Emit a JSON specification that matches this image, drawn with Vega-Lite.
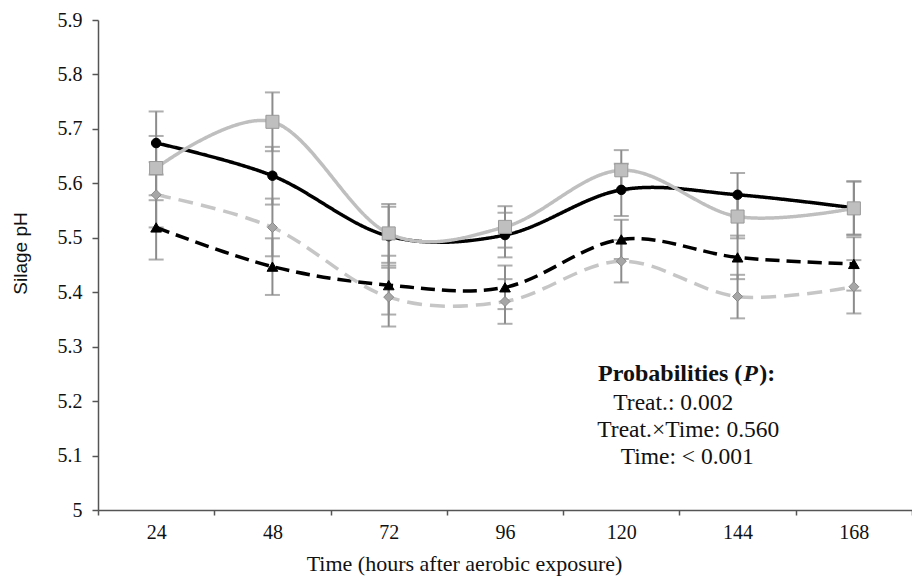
{
  "$schema": "https://vega.github.io/schema/vega-lite/v6.json",
  "width": 814,
  "height": 490,
  "autosize": {"type": "none"},
  "padding": {"left": 98, "top": 20, "right": 0, "bottom": 66},
  "background": "#ffffff",
  "config": {"view": {"stroke": null}, "font": "Liberation Serif"},
  "data": {
    "values": [
      {"time": "24", "series": "A", "ph": 5.674, "se": 0.058},
      {"time": "48", "series": "A", "ph": 5.614, "se": 0.053},
      {"time": "72", "series": "A", "ph": 5.503, "se": 0.054},
      {"time": "96", "series": "A", "ph": 5.505, "se": 0.041},
      {"time": "120", "series": "A", "ph": 5.588, "se": 0.048},
      {"time": "144", "series": "A", "ph": 5.579, "se": 0.040},
      {"time": "168", "series": "A", "ph": 5.555, "se": 0.049},
      {"time": "24", "series": "C", "ph": 5.519, "se": 0.059},
      {"time": "48", "series": "C", "ph": 5.447, "se": 0.052},
      {"time": "72", "series": "C", "ph": 5.413, "se": 0.054},
      {"time": "96", "series": "C", "ph": 5.409, "se": 0.040},
      {"time": "120", "series": "C", "ph": 5.497, "se": 0.036},
      {"time": "144", "series": "C", "ph": 5.464, "se": 0.040},
      {"time": "168", "series": "C", "ph": 5.452, "se": 0.049},
      {"time": "24", "series": "D", "ph": 5.579, "se": 0.060},
      {"time": "48", "series": "D", "ph": 5.519, "se": 0.053},
      {"time": "72", "series": "D", "ph": 5.391, "se": 0.054},
      {"time": "96", "series": "D", "ph": 5.383, "se": 0.041},
      {"time": "120", "series": "D", "ph": 5.457, "se": 0.039},
      {"time": "144", "series": "D", "ph": 5.392, "se": 0.040},
      {"time": "168", "series": "D", "ph": 5.410, "se": 0.049},
      {"time": "24", "series": "B", "ph": 5.628, "se": 0.059},
      {"time": "48", "series": "B", "ph": 5.713, "se": 0.054},
      {"time": "72", "series": "B", "ph": 5.508, "se": 0.054},
      {"time": "96", "series": "B", "ph": 5.520, "se": 0.038},
      {"time": "120", "series": "B", "ph": 5.624, "se": 0.037},
      {"time": "144", "series": "B", "ph": 5.539, "se": 0.040},
      {"time": "168", "series": "B", "ph": 5.554, "se": 0.049}
    ]
  },
  "encoding": {
    "x": {
      "field": "time",
      "type": "ordinal",
      "scale": {"type": "band", "domain": ["24", "48", "72", "96", "120", "144", "168"], "paddingInner": 0, "paddingOuter": 0},
      "axis": {
        "title": "Time (hours after aerobic exposure)",
        "titleFont": "Liberation Serif",
        "titleFontSize": 22,
        "titleFontWeight": "normal",
        "titleColor": "#111111",
        "titleX": 366,
        "titleY": 60,
        "titleBaseline": "alphabetic",
        "titleAlign": "center",
        "labelAngle": 0,
        "labelFont": "Liberation Serif",
        "labelFontSize": 20,
        "labelColor": "#111111",
        "labelPadding": 7,
        "tickBand": "extent",
        "tickSize": 5,
        "tickColor": "#555555",
        "tickWidth": 1.5,
        "domainColor": "#555555",
        "domainWidth": 1.5,
        "grid": false
      }
    },
    "y": {
      "field": "ph",
      "type": "quantitative",
      "scale": {"domain": [5, 5.9], "nice": false, "zero": false},
      "axis": {
        "title": "Silage pH",
        "titleFont": "Liberation Sans",
        "titleFontSize": 19,
        "titleFontWeight": "normal",
        "titleColor": "#111111",
        "titleAngle": -90,
        "titleX": -78,
        "titleY": 233,
        "titleAlign": "center",
        "titleBaseline": "middle",
        "values": [5, 5.1, 5.2, 5.3, 5.4, 5.5, 5.6, 5.7, 5.8, 5.9],
        "format": ".1~f",
        "labelFont": "Liberation Serif",
        "labelFontSize": 20,
        "labelColor": "#111111",
        "labelPadding": 10,
        "tickSize": 6,
        "tickColor": "#555555",
        "tickWidth": 1.5,
        "domainColor": "#555555",
        "domainWidth": 1.5,
        "grid": false
      }
    }
  },
  "layer": [
    {
      "mark": {"type": "errorbar", "color": "#8c8c8c", "thickness": 2, "ticks": {"size": 15, "thickness": 2, "color": "#8c8c8c"}},
      "encoding": {
        "yError": {"field": "se"},
        "detail": {"field": "series"}
      }
    },
    {
      "mark": {"type": "line", "interpolate": "cardinal", "tension": 0, "strokeWidth": 3.5},
      "encoding": {
        "color": {"field": "series", "type": "nominal", "scale": {"domain": ["D", "C", "B", "A"], "range": ["#c6c6c6", "#000000", "#bfbfbf", "#000000"]}, "legend": null},
        "strokeDash": {"field": "series", "type": "nominal", "scale": {"domain": ["D", "C", "B", "A"], "range": [[15, 8], [14, 7], [1, 0], [1, 0]]}, "legend": null}
      }
    },
    {
      "mark": {"type": "point", "filled": true, "opacity": 1, "strokeWidth": 1},
      "encoding": {
        "shape": {"field": "series", "type": "nominal", "scale": {"domain": ["A", "B", "C", "D"], "range": ["circle", "square", "triangle-up", "diamond"]}, "legend": null},
        "fill": {"field": "series", "type": "nominal", "scale": {"domain": ["A", "B", "C", "D"], "range": ["#000000", "#bfbfbf", "#000000", "#a6a6a6"]}, "legend": null},
        "stroke": {"field": "series", "type": "nominal", "scale": {"domain": ["A", "B", "C", "D"], "range": ["#000000", "#999999", "#000000", "#8a8a8a"]}, "legend": null},
        "size": {"field": "series", "type": "nominal", "scale": {"type": "ordinal", "domain": ["A", "B", "C", "D"], "range": [90, 170, 115, 100]}, "legend": null}
      }
    },
    {
      "data": {"values": [{"time": "120", "ph": 5.2498, "label": "Probabilities ("}]},
      "mark": {"type": "text", "font": "Liberation Serif", "fontSize": 24, "fontWeight": "bold", "align": "right", "baseline": "middle", "dx": 121, "color": "#111111"},
      "encoding": {"text": {"field": "label"}}
    },
    {
      "data": {"values": [{"time": "120", "ph": 5.2498, "label": "P"}]},
      "mark": {"type": "text", "font": "Liberation Serif", "fontSize": 24, "fontWeight": "bold", "fontStyle": "italic", "align": "left", "baseline": "middle", "dx": 122, "color": "#111111"},
      "encoding": {"text": {"field": "label"}}
    },
    {
      "data": {"values": [{"time": "120", "ph": 5.2498, "label": "):"}]},
      "mark": {"type": "text", "font": "Liberation Serif", "fontSize": 24, "fontWeight": "bold", "align": "left", "baseline": "middle", "dx": 138, "color": "#111111"},
      "encoding": {"text": {"field": "label"}}
    },
    {
      "data": {"values": [{"time": "120", "ph": 5.1965, "label": "Treat.: 0.002"}]},
      "mark": {"type": "text", "font": "Liberation Serif", "fontSize": 23.5, "align": "center", "baseline": "middle", "dx": 52, "color": "#111111"},
      "encoding": {"text": {"field": "label"}}
    },
    {
      "data": {"values": [{"time": "120", "ph": 5.147, "label": "Treat.×Time: 0.560"}]},
      "mark": {"type": "text", "font": "Liberation Serif", "fontSize": 23.5, "align": "center", "baseline": "middle", "dx": 67, "color": "#111111"},
      "encoding": {"text": {"field": "label"}}
    },
    {
      "data": {"values": [{"time": "120", "ph": 5.0974, "label": "Time: < 0.001"}]},
      "mark": {"type": "text", "font": "Liberation Serif", "fontSize": 23.5, "align": "center", "baseline": "middle", "dx": 66, "color": "#111111"},
      "encoding": {"text": {"field": "label"}}
    }
  ]
}
